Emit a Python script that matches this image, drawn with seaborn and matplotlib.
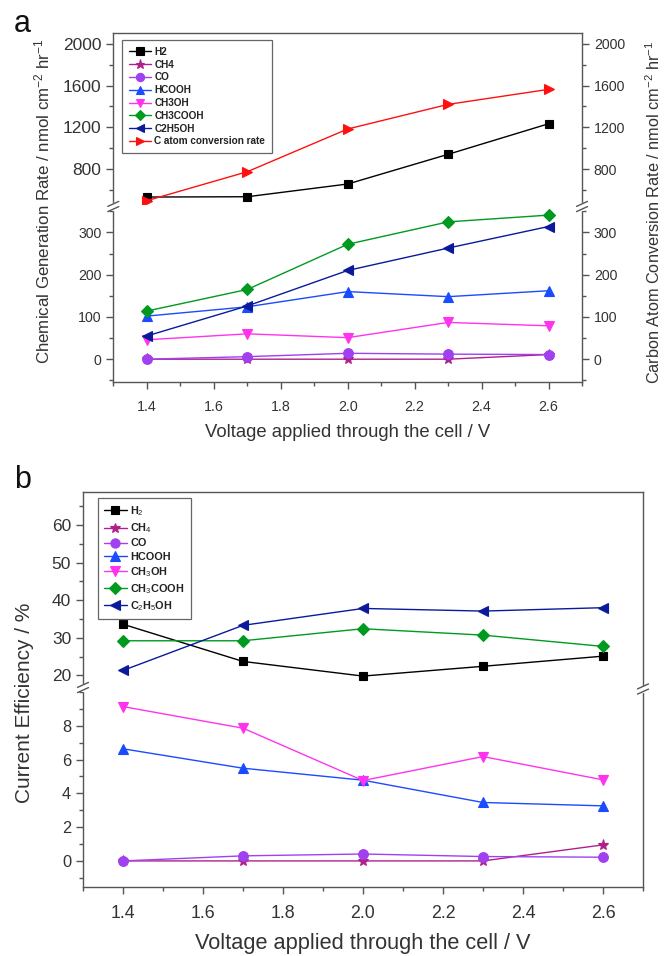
import numpy as np
import pandas as pd
import matplotlib
matplotlib.use("Agg")
import matplotlib.pyplot as plt
from matplotlib.lines import Line2D
from matplotlib.ticker import MultipleLocator, FormatStrFormatter
import seaborn as sns

sns.set_theme(style="white")
plt.rcParams['font.family'] = ['Liberation Sans', 'DejaVu Sans']
plt.rcParams['mathtext.fontset'] = 'custom'
plt.rcParams['mathtext.rm'] = 'Liberation Sans'
plt.rcParams['mathtext.it'] = 'Liberation Sans:italic'

voltage = [1.4, 1.7, 2.0, 2.3, 2.6]

# Panel a: chemical generation rate (nmol cm-2 hr-1)
rate_h2 = [531, 534, 656, 941, 1234]
rate_ch4 = [0, 0, 0, 0, 11]
rate_co = [0, 6, 14, 12, 11]
rate_hcooh = [102, 124, 160, 148, 162]
rate_ch3oh = [46, 60, 51, 87, 79]
rate_ch3cooh = [114, 165, 272, 325, 341]
rate_c2h5oh = [55, 126, 210, 263, 314]
rate_catom = [496, 774, 1184, 1420, 1564]

# Panel b: current efficiency (%)
eff_h2 = [33.6, 23.7, 19.8, 22.4, 25.1]
eff_ch4 = [0, 0, 0, 0, 0.95]
eff_co = [0, 0.3, 0.41, 0.26, 0.22]
eff_hcooh = [6.64, 5.49, 4.78, 3.46, 3.26]
eff_ch3oh = [9.14, 7.86, 4.76, 6.18, 4.8]
eff_ch3cooh = [29.2, 29.2, 32.4, 30.7, 27.7]
eff_c2h5oh = [21.3, 33.3, 37.8, 37.1, 38.0]

labels_a = ["H2", "CH4", "CO", "HCOOH", "CH3OH", "CH3COOH", "C2H5OH", "C atom conversion rate"]
labels_b = ["H$_2$", "CH$_4$", "CO", "HCOOH", "CH$_3$OH", "CH$_3$COOH", "C$_2$H$_5$OH"]

colors = ["#000000", "#B0208A", "#A040F0", "#1A4BFF", "#FF33EE", "#009A20", "#0A1A9A", "#FF1010"]
markers = ["s", "*", "o", "^", "v", "D", "<", ">"]
msizes = [6, 8, 7, 7, 7, 6, 7, 7]

TXT = "#333333"
SP = "#555555"
W, H = 667.0, 956.0

fig = plt.figure(figsize=(6.67, 9.56), dpi=100)

axA_top = fig.add_axes([0.170, 0.7856, 0.7026, 0.1799])
axA_bot = fig.add_axes([0.170, 0.6004, 0.7026, 0.1852])
axB_top = fig.add_axes([0.1244, 0.2814, 0.8396, 0.2040])
axB_bot = fig.add_axes([0.1244, 0.0719, 0.8396, 0.2095])


def draw(ax, yvals, idx, label):
    sns.lineplot(x=voltage, y=yvals, ax=ax, color=colors[idx], marker=markers[idx],
                 markersize=msizes[idx], markeredgecolor=colors[idx], markeredgewidth=0.8,
                 linewidth=1.0, label=label, legend=False)


series_a = [rate_h2, rate_ch4, rate_co, rate_hcooh, rate_ch3oh, rate_ch3cooh, rate_c2h5oh, rate_catom]
top_a = {0, 7}
for i, (vals, lab) in enumerate(zip(series_a, labels_a)):
    draw(axA_top if i in top_a else axA_bot, vals, i, lab)

series_b = [eff_h2, eff_ch4, eff_co, eff_hcooh, eff_ch3oh, eff_ch3cooh, eff_c2h5oh]
top_b = {0, 5, 6}
for i, (vals, lab) in enumerate(zip(series_b, labels_b)):
    draw(axB_top if i in top_b else axB_bot, vals, i, lab)

axA_top.set_ylim(455, 2105)
axA_bot.set_ylim(-54, 365)
axB_top.set_ylim(16.9, 68.8)
axB_bot.set_ylim(-1.56, 10.3)

for ax in (axA_top, axA_bot, axB_top, axB_bot):
    ax.set_xlim(1.3, 2.7)
    for s in ax.spines.values():
        s.set_color(SP)
        s.set_linewidth(1.0)
    ax.set_xlabel("")
    ax.set_ylabel("")

axA_top.yaxis.set_minor_locator(MultipleLocator(200))
axA_bot.yaxis.set_minor_locator(MultipleLocator(50))
axB_top.yaxis.set_minor_locator(MultipleLocator(5))
axB_bot.yaxis.set_minor_locator(MultipleLocator(1))
axA_top.set_yticks([800, 1200, 1600, 2000])
axA_bot.set_yticks([0, 100, 200, 300])
axB_top.set_yticks([20, 30, 40, 50, 60])
axB_bot.set_yticks([0, 2, 4, 6, 8])

for ax in (axA_bot, axB_bot):
    ax.set_xticks([1.4, 1.6, 1.8, 2.0, 2.2, 2.4, 2.6])
    ax.set_xticks(np.arange(1.3, 2.71, 0.1), minor=True)
    ax.xaxis.set_major_formatter(FormatStrFormatter('%.1f'))

for ax in (axA_top, axB_top):
    ax.spines['bottom'].set_visible(False)
    ax.tick_params(axis='x', which='both', bottom=False, labelbottom=False, top=False)
for ax in (axA_bot, axB_bot):
    ax.spines['top'].set_visible(False)

# panel a ticks
for ax in (axA_top, axA_bot):
    ax.tick_params(axis='y', which='both', direction='out', left=True, right=True,
                   labelleft=True, labelright=True, colors=SP, labelcolor=TXT, labelsize=10.2)
    ax.tick_params(axis='y', which='major', length=5, width=1)
    ax.tick_params(axis='y', which='minor', length=3, width=1)
for tk in axA_top.yaxis.get_major_ticks():
    tk.label1.set_fontsize(12.5)
    tk.label2.set_fontsize(10.2)
axA_bot.tick_params(axis='x', which='both', direction='out', bottom=True, top=False,
                    colors=SP, labelcolor=TXT, labelsize=10.3)
axA_bot.tick_params(axis='x', which='major', length=5, width=1, pad=8)
axA_bot.tick_params(axis='x', which='minor', length=3, width=1)

# panel b ticks
for ax, lsz in ((axB_top, 12.5), (axB_bot, 11.8)):
    ax.tick_params(axis='y', which='both', direction='out', left=True, right=False,
                   labelleft=True, colors=SP, labelcolor=TXT, labelsize=lsz)
    ax.tick_params(axis='y', which='major', length=5, width=1)
    ax.tick_params(axis='y', which='minor', length=3, width=1)
axB_bot.tick_params(axis='x', which='both', direction='out', bottom=True, top=False,
                    colors=SP, labelcolor=TXT, labelsize=12.8)
axB_bot.tick_params(axis='x', which='major', length=5, width=1, pad=8)
axB_bot.tick_params(axis='x', which='minor', length=3, width=1)


def break_mark(xpx, ypx):
    x = xpx / W
    fig.add_artist(Line2D([x, x], [1 - (ypx - 2.2) / H, 1 - (ypx + 2.2) / H],
                          color="white", lw=2.5, transform=fig.transFigure, zorder=10))
    for off in (-2.6, 2.6):
        yc = ypx + off
        fig.add_artist(Line2D([x - 5.5 / W, x + 5.5 / W],
                              [1 - (yc + 2.5) / H, 1 - (yc - 2.5) / H],
                              color=SP, lw=1.0, transform=fig.transFigure, zorder=11))


break_mark(113.3, 206.5)
break_mark(582.0, 206.5)
break_mark(83.0, 687.5)
break_mark(643.0, 689.0)

# legends
ha, la = [], []
for ax in (axA_top, axA_bot):
    h, l = ax.get_legend_handles_labels()
    ha += h
    la += l
order = [la.index(x) for x in labels_a]
legA = axA_top.legend([ha[i] for i in order], [la[i] for i in order], loc='upper left',
                      bbox_to_anchor=(121.7 / W, 1 - 40.0 / H), bbox_transform=fig.transFigure,
                      borderaxespad=0, fancybox=False, framealpha=1, edgecolor="#666666",
                      prop={'size': 7.2, 'weight': 'bold'}, labelspacing=0.28, handlelength=2.2,
                      handletextpad=0.4, borderpad=0.68, markerscale=0.85)
legA.get_frame().set_linewidth(0.9)
for t in legA.get_texts():
    t.set_color("#222222")

hb, lb = [], []
for ax in (axB_top, axB_bot):
    h, l = ax.get_legend_handles_labels()
    hb += h
    lb += l
order = [lb.index(x) for x in labels_b]
legB = axB_top.legend([hb[i] for i in order], [lb[i] for i in order], loc='upper left',
                      bbox_to_anchor=(97.7 / W, 1 - 498 / H), bbox_transform=fig.transFigure,
                      borderaxespad=0, fancybox=False, framealpha=1, edgecolor="#666666",
                      prop={'size': 7.8, 'weight': 'bold'}, labelspacing=0.3, handlelength=2.1,
                      handletextpad=0.34, borderpad=0.58, markerscale=0.95)
legB.get_frame().set_linewidth(0.9)
for t in legB.get_texts():
    t.set_color("#222222")

# axis labels
fig.text(0.064, 0.79, "Chemical Generation Rate / nmol cm$^{-2}$ hr$^{-1}$", rotation=90,
         ha='center', va='center', fontsize=12.2, color=TXT)
fig.text(0.980, 0.778, "Carbon Atom Conversion Rate / nmol cm$^{-2}$ hr$^{-1}$", rotation=90,
         ha='center', va='center', fontsize=11.7, color=TXT)
fig.text((113.3 + 582) / 2 / W, 1 - 432 / H, "Voltage applied through the cell / V",
         ha='center', va='center', fontsize=13.3, color=TXT)

fig.text(25 / W, 0.2646, "Current Efficiency / %", rotation=90, ha='center', va='center',
         fontsize=15, color=TXT)
fig.text((83 + 643) / 2 / W, 1 - 943 / H, "Voltage applied through the cell / V",
         ha='center', va='center', fontsize=15.7, color=TXT)

fig.text(14 / W, 1 - 24 / H, "a", fontsize=22, ha='left', va='center', color="#111111")
fig.text(14 / W, 1 - 480 / H, "b", fontsize=22, ha='left', va='center', color="#111111")

fig.savefig("out.png", dpi=100)
